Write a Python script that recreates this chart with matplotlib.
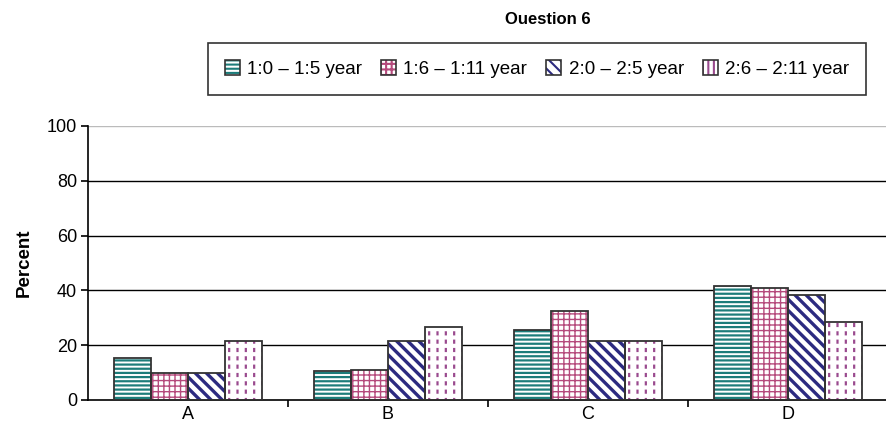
import matplotlib.pyplot as plt
from matplotlib.patches import Patch

plt.rcParams['font.family'] = ['Liberation Sans', 'DejaVu Sans']
plt.rcParams['hatch.linewidth'] = 1.5

# Data
categories = ['A', 'B', 'C', 'D']
series_labels = ['1:0 – 1:5 year', '1:6 – 1:11 year', '2:0 – 2:5 year', '2:6 – 2:11 year']
values = [
    [15.5, 10.5, 25.5, 41.5],   # 1:0 - 1:5
    [9.7, 11.0, 32.5, 41.0],    # 1:6 - 1:11
    [9.7, 21.5, 21.5, 38.2],    # 2:0 - 2:5
    [21.5, 26.5, 21.5, 28.5],   # 2:6 - 2:11
]

hatch_colors = ['#1c7c7a', '#b54a7c', '#2c2a80', '#9a4a8e']
hatches = ['----', '+++', '\\\\\\', '||']
hatch_lw = [1.6, 1.0, 2.4, 1.6]

fig = plt.figure(figsize=(8.87, 4.42), dpi=100)
ax = fig.add_axes([88 / 887, 42 / 442, 800 / 887, 274 / 442])

x = list(range(len(categories)))
width = 0.185
outline_color = '#333333'

legend_handles = []
for i, vals in enumerate(values):
    pos = [xi + (i - 1.5) * width for xi in x]
    bars = ax.bar(pos, vals, width, facecolor='white', edgecolor=hatch_colors[i],
                  linewidth=0, hatch=hatches[i], zorder=2)
    for b in bars:
        if hasattr(b, 'set_hatch_linewidth'):
            b.set_hatch_linewidth(hatch_lw[i])
    if i == 3:
        # cut vertical lines into short dashes
        cut = ax.bar(pos, vals, width, facecolor='none', edgecolor='white',
                     linewidth=0, hatch='--', zorder=2.5)
        for b in cut:
            if hasattr(b, 'set_hatch_linewidth'):
                b.set_hatch_linewidth(3.0)
    ax.bar(pos, vals, width, facecolor='none', edgecolor=outline_color,
           linewidth=1.3, zorder=3)
    h1 = Patch(facecolor='white', edgecolor=hatch_colors[i], linewidth=0,
               hatch=hatches[i] if i < 3 else '|||')
    h2 = Patch(facecolor='none', edgecolor=outline_color, linewidth=1.2)
    legend_handles.append((h1, h2))

ax.set_xlim(-0.5, 3.5)
ax.set_ylim(0, 100)
ax.set_yticks([0, 20, 40, 60, 80, 100])
ax.set_xticks(x)
ax.set_xticklabels(categories)
ax.set_xticks([0.5, 1.5, 2.5], minor=True)
ax.tick_params(axis='x', which='major', length=0, pad=4, labelsize=13)
ax.tick_params(axis='x', which='minor', length=5, width=1.2, direction='out')
ax.tick_params(axis='y', length=5, width=1.2, direction='out', labelsize=13, pad=3)

ax.grid(axis='y', color='black', linewidth=1.0, zorder=0)
ax.set_axisbelow(True)
ax.get_ygridlines()[-1].set_color('#bbbbbb')
ax.get_ygridlines()[0].set_visible(False)

for s in ['top', 'right']:
    ax.spines[s].set_visible(False)
for s in ['left', 'bottom']:
    ax.spines[s].set_linewidth(1.2)

ax.set_ylabel('Percent', fontsize=13.5, fontweight='bold', labelpad=10)

fig.text(548 / 887, 1 - 20 / 442, 'Ouestion 6', ha='center', va='center',
         fontsize=12, fontweight='bold')

leg = fig.legend(legend_handles, series_labels, ncol=4,
                 loc='center', bbox_to_anchor=(537 / 887, 1 - 69 / 442),
                 fontsize=13.5, frameon=True, fancybox=False,
                 edgecolor='black', borderpad=0.9, handlelength=0.8,
                 handleheight=0.8, handletextpad=0.4, columnspacing=1.0,
                 borderaxespad=0)
leg.get_frame().set_linewidth(1.2)

fig.savefig('out.png', dpi=100)
